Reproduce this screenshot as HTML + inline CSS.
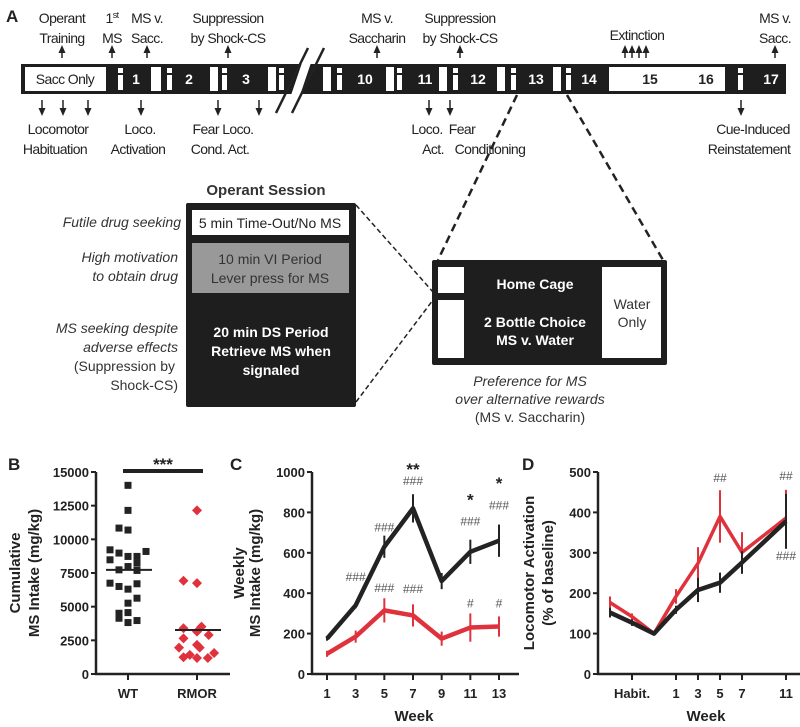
<!DOCTYPE html>
<html><head><meta charset="utf-8"><style>
html,body{margin:0;padding:0;background:#fff;}
svg{display:block;font-family:"Liberation Sans",Arial,sans-serif;}
.tl{font-size:14px;fill:#222;text-anchor:middle;letter-spacing:-0.6px;}
.num{font-size:14px;fill:#fff;text-anchor:middle;font-weight:bold;}
.it{font-style:italic;font-size:14px;fill:#333;text-anchor:end;}
.tick{font-size:13px;font-weight:bold;fill:#222;}
.ttl{font-size:15px;font-weight:bold;fill:#222;}
.ann{font-size:12px;fill:#555;text-anchor:middle;}
</style></head><body>
<svg id="fig" width="800" height="727" viewBox="0 0 800 727">
<defs><marker id="ah" markerUnits="userSpaceOnUse" markerWidth="8" markerHeight="8" refX="4" refY="4" orient="auto"><path d="M0,0.5 L8,4 L0,7.5 z" fill="#222"/></marker></defs>
<text x="6" y="22" font-size="17" font-weight="bold" fill="#222">A</text>
<g>
<text class="tl" x="62" y="23">Operant</text><text class="tl" x="62" y="43">Training</text>
<text class="tl" x="112" y="23">1<tspan font-size="9" dy="-5">st</tspan></text><text class="tl" x="112" y="43">MS</text>
<text class="tl" x="147" y="23">MS v.</text><text class="tl" x="147" y="43">Sacc.</text>
<text class="tl" x="228" y="23">Suppression</text><text class="tl" x="228" y="43">by Shock-CS</text>
<text class="tl" x="377" y="23">MS v.</text><text class="tl" x="377" y="43">Saccharin</text>
<text class="tl" x="460" y="23">Suppression</text><text class="tl" x="460" y="43">by Shock-CS</text>
<text class="tl" x="637" y="40">Extinction</text>
<text class="tl" x="775" y="23">MS v.</text><text class="tl" x="775" y="43">Sacc.</text>
</g>
<g stroke="#222" stroke-width="1.5">
<line x1="62" y1="58" x2="62" y2="49" marker-end="url(#ah)"/>
<line x1="112" y1="58" x2="112" y2="49" marker-end="url(#ah)"/>
<line x1="147" y1="58" x2="147" y2="49" marker-end="url(#ah)"/>
<line x1="228" y1="58" x2="228" y2="49" marker-end="url(#ah)"/>
<line x1="377" y1="58" x2="377" y2="49" marker-end="url(#ah)"/>
<line x1="460" y1="58" x2="460" y2="49" marker-end="url(#ah)"/>
<line x1="625" y1="58" x2="625" y2="49" marker-end="url(#ah)"/>
<line x1="632" y1="58" x2="632" y2="49" marker-end="url(#ah)"/>
<line x1="639" y1="58" x2="639" y2="49" marker-end="url(#ah)"/>
<line x1="646" y1="58" x2="646" y2="49" marker-end="url(#ah)"/>
<line x1="775" y1="58" x2="775" y2="49" marker-end="url(#ah)"/>
</g>
<g>
<rect x="21" y="64" width="765" height="30" fill="#1e1e1e"/>
<rect x="25" y="67" width="81" height="24" fill="#fff"/>
<text class="tl" x="65" y="84" style="fill:#222">Sacc Only</text>
<g fill="#fff">
<rect x="118" y="68" width="5" height="5"/><rect x="118" y="75" width="5" height="15"/>
<rect x="151" y="67" width="10" height="24"/><rect x="167" y="68" width="5" height="5"/><rect x="167" y="75" width="5" height="15"/>
<rect x="210" y="67" width="8" height="24"/><rect x="222" y="68" width="5" height="5"/><rect x="222" y="75" width="5" height="15"/>
<rect x="268" y="67" width="8" height="24"/><rect x="279" y="68" width="5" height="5"/><rect x="279" y="75" width="5" height="15"/>
<rect x="323" y="67" width="8" height="24"/><rect x="337" y="68" width="5" height="5"/><rect x="337" y="75" width="5" height="15"/>
<rect x="386" y="67" width="8" height="24"/><rect x="397" y="68" width="5" height="5"/><rect x="397" y="75" width="5" height="15"/>
<rect x="439" y="67" width="8" height="24"/><rect x="453" y="68" width="5" height="5"/><rect x="453" y="75" width="5" height="15"/>
<rect x="497" y="67" width="8" height="24"/><rect x="511" y="68" width="5" height="5"/><rect x="511" y="75" width="5" height="15"/>
<rect x="553" y="67" width="8" height="24"/><rect x="566" y="68" width="5" height="5"/><rect x="566" y="75" width="5" height="15"/>
<rect x="609" y="67" width="116" height="24"/>
<rect x="738" y="68" width="5" height="5"/><rect x="738" y="75" width="5" height="15"/>
</g>
<text class="num" x="136" y="84">1</text><text class="num" x="189" y="84">2</text><text class="num" x="246" y="84">3</text>
<text class="num" x="365" y="84">10</text><text class="num" x="425" y="84">11</text><text class="num" x="478" y="84">12</text>
<text class="num" x="536" y="84">13</text><text class="num" x="589" y="84">14</text>
<text class="num" x="650" y="84" style="fill:#222">15</text><text class="num" x="706" y="84" style="fill:#222">16</text>
<text class="num" x="771" y="84">17</text>
<polygon points="294,113 316,48 307,48 285,113" fill="#fff"/>
<line x1="276" y1="113" x2="308" y2="48" stroke="#222" stroke-width="2.5"/>
<line x1="292" y1="113" x2="324" y2="48" stroke="#222" stroke-width="2.5"/>
</g>
<g stroke="#222" stroke-width="1.5">
<line x1="42" y1="100" x2="42" y2="112" marker-end="url(#ah)"/>
<line x1="63" y1="100" x2="63" y2="112" marker-end="url(#ah)"/>
<line x1="88" y1="100" x2="88" y2="112" marker-end="url(#ah)"/>
<line x1="141" y1="100" x2="141" y2="112" marker-end="url(#ah)"/>
<line x1="218" y1="100" x2="218" y2="112" marker-end="url(#ah)"/>
<line x1="259" y1="100" x2="259" y2="112" marker-end="url(#ah)"/>
<line x1="429" y1="100" x2="429" y2="112" marker-end="url(#ah)"/>
<line x1="450" y1="100" x2="450" y2="112" marker-end="url(#ah)"/>
<line x1="741" y1="100" x2="741" y2="112" marker-end="url(#ah)"/>
</g>
<g>
<text class="tl" x="58" y="134">Locomotor</text><text class="tl" x="55" y="154">Habituation</text>
<text class="tl" x="140" y="134">Loco.</text><text class="tl" x="138" y="154">Activation</text>
<text class="tl" x="223" y="134">Fear Loco.</text><text class="tl" x="220" y="154">Cond. Act.</text>
<text class="tl" x="427" y="134">Loco.</text><text class="tl" x="433" y="154">Act.</text>
<text class="tl" x="462" y="134">Fear</text><text class="tl" x="490" y="154">Conditioning</text>
<text class="tl" x="753" y="134">Cue-Induced</text><text class="tl" x="749" y="154">Reinstatement</text>
</g>
<g stroke="#222" stroke-width="2.5" stroke-dasharray="8,5" fill="none">
<line x1="517" y1="95" x2="438" y2="260"/><line x1="567" y1="95" x2="663" y2="260"/>
</g>
<g stroke="#222" stroke-width="1.5" stroke-dasharray="5,3" fill="none">
<line x1="356" y1="205" x2="433" y2="292"/><line x1="356" y1="402" x2="433" y2="300"/>
</g>
<g>
<text x="266" y="195" font-size="15" font-weight="bold" fill="#333" text-anchor="middle">Operant Session</text>
<rect x="186" y="203" width="170" height="204" rx="2" fill="#1e1e1e"/>
<rect x="192" y="210" width="157" height="25" fill="#fff"/>
<text x="270" y="228" font-size="14" fill="#222" text-anchor="middle">5 min Time-Out/No MS</text>
<rect x="192" y="243" width="157" height="50" fill="#999"/>
<text x="270" y="264" font-size="14" fill="#333" text-anchor="middle">10 min VI Period</text>
<text x="270" y="283" font-size="14" fill="#333" text-anchor="middle">Lever press for MS</text>
<text x="271" y="337" font-size="14" font-weight="bold" fill="#fff" text-anchor="middle">20 min DS Period</text>
<text x="271" y="356" font-size="14" font-weight="bold" fill="#fff" text-anchor="middle">Retrieve MS when</text>
<text x="271" y="375" font-size="14" font-weight="bold" fill="#fff" text-anchor="middle">signaled</text>
<text class="it" x="181" y="227">Futile drug seeking</text>
<text class="it" x="178" y="262">High motivation</text><text class="it" x="178" y="281">to obtain drug</text>
<text class="it" x="178" y="333">MS seeking despite</text><text class="it" x="178" y="352">adverse effects</text>
<text x="175" y="371" font-size="14" fill="#333" text-anchor="end">(Suppression by</text>
<text x="178" y="390" font-size="14" fill="#333" text-anchor="end">Shock-CS)</text>
</g>
<g>
<rect x="432" y="260" width="235" height="105" rx="2" fill="#1e1e1e"/>
<rect x="438" y="267" width="26" height="26" fill="#fff"/><rect x="438" y="300" width="26" height="58" fill="#fff"/>
<rect x="602" y="267" width="59" height="91" fill="#fff"/>
<text x="535" y="289" font-size="14" font-weight="bold" fill="#fff" text-anchor="middle">Home Cage</text>
<text x="535" y="327" font-size="14" font-weight="bold" fill="#fff" text-anchor="middle">2 Bottle Choice</text>
<text x="535" y="345" font-size="14" font-weight="bold" fill="#fff" text-anchor="middle">MS v. Water</text>
<text x="632" y="309" font-size="14" fill="#333" text-anchor="middle">Water</text>
<text x="632" y="327" font-size="14" fill="#333" text-anchor="middle">Only</text>
<text x="530" y="386" font-size="14" font-style="italic" fill="#333" text-anchor="middle">Preference for MS</text>
<text x="530" y="404" font-size="14" font-style="italic" fill="#333" text-anchor="middle">over alternative rewards</text>
<text x="530" y="422" font-size="14" fill="#333" text-anchor="middle">(MS v. Saccharin)</text>
</g>
<text x="8" y="470" font-size="17" font-weight="bold" fill="#222">B</text>
<text x="230" y="470" font-size="17" font-weight="bold" fill="#222">C</text>
<text x="522" y="470" font-size="17" font-weight="bold" fill="#222">D</text>
<g id="gB"></g><g id="gC"></g><g id="gD"></g>
</svg>
<script>
// Panel B data
const bWT = [14010,12150,10835,10690,9220,9100,8980,8730,8730,8480,8230,7980,7735,7690,6745,6700,6500,6300,5630,5260,4510,4560,4140,3820,3970];
const bWTjit = [0,0,-1,0,-2,2,-1,0,1,-2,1,0,-1,1,-2,1,-1,0,1,0,-1,0,-1,0,1];
const bRM = [12150,6920,6745,3400,3520,3150,2900,2650,2160,1960,1960,1240,1420,1190,1190,1560];
const bRMjit = [0,-1.5,0,-1.5,0.5,0,1.3,-1.5,0,-2,0.3,-1.5,-0.8,0,1.2,1.9];
const bMeans = [7735,3270];
const bCats = ["WT","RMOR"];
const bTicks = [0,2500,5000,7500,10000,12500,15000];
// Panel C data
const cWeeks = [1,3,5,7,9,11,13];
const cWT = [175,340,630,820,460,605,660];
const cWTerr = [10,15,55,70,40,60,80];
const cRM = [100,185,315,290,175,230,235];
const cRMerr = [15,30,60,55,35,70,50];
const cTicks = [0,200,400,600,800,1000];
// Panel D data
const dWeeks = [-5,-3,-1,1,3,5,7,11];
const dWT = [152,127,100,159,208,226,276,378];
const dWTerr = [12,8,0,10,30,25,28,68];
const dRM = [177,142,100,192,274,390,301,386];
const dRMerr = [15,8,0,18,40,65,50,70];
const dTicks = [0,100,200,300,400,500];
const dTickWeeks = [-3,1,3,5,7,11];
const dTickLabels = ["Habit.","1","3","5","7","11"];

const NS="http://www.w3.org/2000/svg";
function mk(parent,tag,attrs,txt){const e=document.createElementNS(NS,tag);for(const k in attrs)e.setAttribute(k,attrs[k]);if(txt!==undefined)e.textContent=txt;parent.appendChild(e);return e;}
const RED="#e0323c", BLK="#232323";

// ---- Panel B
const gB=document.getElementById('gB');
const yB=v=>674-v*(202/15000);
const xB=i=>128+i*69;
let ax=mk(gB,'path',{d:'M96,472 V674 H230',stroke:'#222','stroke-width':2.5,fill:'none'});


bTicks.forEach(t=>{mk(gB,'line',{x1:91,x2:96,y1:yB(t),y2:yB(t),stroke:'#222','stroke-width':2});
 const tx=mk(gB,'text',{class:'tick',x:89,y:yB(t)+5,'text-anchor':'end'},t);
 
 });
bCats.forEach((c,i)=>{mk(gB,'line',{x1:xB(i),x2:xB(i),y1:674,y2:680,stroke:'#222','stroke-width':2});
 const tx=mk(gB,'text',{class:'tick',x:xB(i),y:698,'text-anchor':'middle','font-size':14},c);
 
 });
bWT.forEach((v,i)=>{const r=mk(gB,'rect',{x:xB(0)+bWTjit[i]*9-3.5,y:yB(v)-3.5,width:7,height:7,fill:BLK});
 
 });
bRM.forEach((v,i)=>{const cx=xB(1)+bRMjit[i]*9,cy=yB(v);const p=mk(gB,'polygon',{points:`${cx},${cy-5} ${cx+5},${cy} ${cx},${cy+5} ${cx-5},${cy}`,fill:RED});
 
 });
bMeans.forEach((m,i)=>{const l=mk(gB,'line',{x1:xB(i)-22,x2:xB(i)+24,y1:yB(m),y2:yB(m),stroke:'#222','stroke-width':2});
 
 });
mk(gB,'line',{x1:123,x2:203,y1:471,y2:471,stroke:'#222','stroke-width':4});
mk(gB,'text',{x:163,y:470,'text-anchor':'middle','font-size':17,'font-weight':'bold',fill:'#222'},'***');
let t1=mk(gB,'text',{class:'ttl',transform:'translate(20,573) rotate(-90)','text-anchor':'middle'},'Cumulative');


mk(gB,'text',{class:'ttl',transform:'translate(39,573) rotate(-90)','text-anchor':'middle'},'MS Intake (mg/kg)');

// ---- Panel C
const gC=document.getElementById('gC');
const yC=v=>674-v*0.202;
const xC=w=>327+(w-1)*(172/12);
ax=mk(gC,'path',{d:'M312,472 V674 H519',stroke:'#222','stroke-width':2.5,fill:'none'});


cTicks.forEach(t=>{mk(gC,'line',{x1:307,x2:312,y1:yC(t),y2:yC(t),stroke:'#222','stroke-width':2});
 const tx=mk(gC,'text',{class:'tick',x:305,y:yC(t)+5,'text-anchor':'end'},t);
 
 });
cWeeks.forEach(w=>{mk(gC,'line',{x1:xC(w),x2:xC(w),y1:674,y2:680,stroke:'#222','stroke-width':2});
 const tx=mk(gC,'text',{class:'tick',x:xC(w),y:698,'text-anchor':'middle','font-size':14},w);
 
 });
function series(g,xs,ys,errs,xf,yf,col,w,name){
 const l=mk(g,'polyline',{points:xs.map((x,i)=>xf(x)+','+yf(ys[i])).join(' '),stroke:col,'stroke-width':w,fill:'none','stroke-linejoin':'round'});
 
 
 xs.forEach((x,i)=>{if(errs[i]>0){const e=mk(g,'line',{x1:xf(x),x2:xf(x),y1:yf(ys[i]-errs[i]),y2:yf(ys[i]+errs[i]),stroke:col,'stroke-width':2});
  
  }});
}
series(gC,cWeeks,cRM,cRMerr,xC,yC,RED,4.5,'c-rmor-line');
series(gC,cWeeks,cWT,cWTerr,xC,yC,BLK,4.5,'c-wt-line');
[[3,460,'###'],[5,705,'###'],[5,405,'###'],[7,400,'###'],[7,935,'###'],[11,735,'###'],[11,330,'#'],[13,815,'###'],[13,330,'#']].forEach(a=>mk(gC,'text',{class:'ann',x:xC(a[0]),y:yC(a[1])},a[2]));
[[7,985,'**'],[11,835,'*'],[13,915,'*']].forEach(a=>mk(gC,'text',{x:xC(a[0]),y:yC(a[1]),'text-anchor':'middle','font-size':17,'font-weight':'bold',fill:'#222'},a[2]));
mk(gC,'text',{class:'ttl',x:414,y:721,'text-anchor':'middle'},'Week');
t1=mk(gC,'text',{class:'ttl',transform:'translate(244,573) rotate(-90)','text-anchor':'middle'},'Weekly');


mk(gC,'text',{class:'ttl',transform:'translate(260,573) rotate(-90)','text-anchor':'middle'},'MS Intake (mg/kg)');

// ---- Panel D
const gD=document.getElementById('gD');
const yD=v=>674-v*0.404;
const xD=w=>665+11*w;
ax=mk(gD,'path',{d:'M598,472 V674 H800',stroke:'#222','stroke-width':2.5,fill:'none'});


dTicks.forEach(t=>{mk(gD,'line',{x1:593,x2:598,y1:yD(t),y2:yD(t),stroke:'#222','stroke-width':2});
 const tx=mk(gD,'text',{class:'tick',x:591,y:yD(t)+5,'text-anchor':'end'},t);
 
 });
dTickWeeks.forEach((w,i)=>{mk(gD,'line',{x1:xD(w),x2:xD(w),y1:674,y2:680,stroke:'#222','stroke-width':2});
 const tx=mk(gD,'text',{class:'tick',x:xD(w),y:698,'text-anchor':'middle','font-size':14},dTickLabels[i]);
 
 });
series(gD,dWeeks,dRM,dRMerr,xD,yD,RED,3.5,'d-rmor-line');
series(gD,dWeeks,dWT,dWTerr,xD,yD,BLK,4.5,'d-wt-line');
[[5,475,'##'],[11,480,'##']].forEach(a=>mk(gD,'text',{class:'ann',x:xD(a[0]),y:yD(a[1])},a[2]));
mk(gD,'text',{class:'ann',x:786,y:560,'text-anchor':'start'},'###');
mk(gD,'text',{class:'ttl',x:706,y:721,'text-anchor':'middle'},'Week');
t1=mk(gD,'text',{class:'ttl',transform:'translate(534,573) rotate(-90)','text-anchor':'middle'},'Locomotor Activation');


mk(gD,'text',{class:'ttl',transform:'translate(553,573) rotate(-90)','text-anchor':'middle'},'(% of baseline)');
</script>
</body></html>
